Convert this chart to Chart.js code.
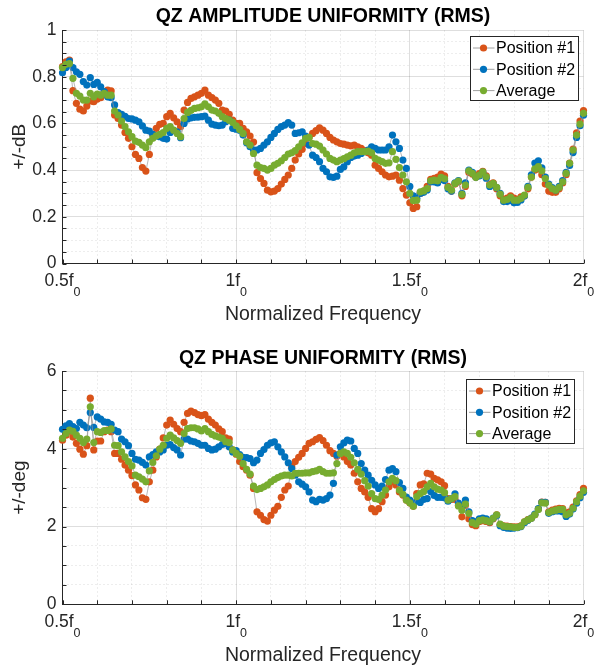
<!DOCTYPE html>
<html>
<head>
<meta charset="utf-8">
<title>QZ uniformity</title>
<script src="https://cdn.jsdelivr.net/npm/chart.js@4.4.0/dist/chart.umd.min.js"></script>
<style>
  html, body { margin: 0; padding: 0; background: #fff; }
  canvas { display: block; }
</style>
</head>
<body>
<canvas id="ampChart" width="595" height="333"></canvas>
<canvas id="phaseChart" width="595" height="333"></canvas>
<script>
// frequency grid, 0.50 .. 2.00 in steps of 0.01 (normalised to f0)
const freq = Array.from({ length: 151 }, (_, i) => (50 + i) / 100);

const seriesNames = ['Position #1', 'Position #2', 'Average'];
const seriesColors = ['#D95319', '#0072BD', '#77AC30'];

const xTickValues = [0.5, 1, 1.5, 2];
const xTickText = ['0.5f', '1f', '1.5f', '2f'];
const xTickSub = '0';

// amplitude uniformity, +/-dB
const ampPos1 = [0.843,0.864,0.871,0.74,0.686,0.661,0.653,0.674,0.696,0.693,
  0.704,0.71,0.736,0.743,0.739,0.636,0.621,0.593,0.561,0.536,
  0.5,0.467,0.45,0.411,0.396,0.467,0.55,0.579,0.596,0.6,
  0.629,0.643,0.624,0.607,0.586,0.657,0.69,0.707,0.714,0.721,
  0.729,0.743,0.721,0.71,0.7,0.686,0.657,0.653,0.639,0.614,
  0.6,0.6,0.579,0.564,0.546,0.52,0.389,0.364,0.343,0.314,
  0.307,0.31,0.321,0.34,0.36,0.379,0.407,0.443,0.469,0.489,
  0.514,0.54,0.557,0.569,0.581,0.571,0.557,0.54,0.529,0.521,
  0.514,0.511,0.507,0.504,0.507,0.5,0.493,0.483,0.474,0.464,
  0.421,0.407,0.393,0.379,0.371,0.374,0.379,0.357,0.321,0.293,
  0.26,0.236,0.243,0.3,0.31,0.33,0.36,0.365,0.37,0.383,
  0.375,0.33,0.31,0.34,0.35,0.29,0.33,0.39,0.383,0.37,
  0.385,0.395,0.375,0.34,0.345,0.32,0.29,0.275,0.28,0.29,
  0.28,0.275,0.285,0.29,0.32,0.37,0.4,0.405,0.38,0.34,
  0.31,0.305,0.305,0.32,0.345,0.38,0.43,0.49,0.56,0.61,0.655];

const ampPos2 = [0.817,0.839,0.867,0.839,0.821,0.81,0.779,0.764,0.796,0.767,
  0.776,0.757,0.736,0.714,0.71,0.679,0.646,0.639,0.63,0.621,
  0.619,0.614,0.607,0.589,0.571,0.567,0.553,0.546,0.543,0.536,
  0.533,0.561,0.57,0.564,0.539,0.6,0.619,0.624,0.626,0.627,
  0.629,0.631,0.614,0.597,0.593,0.59,0.593,0.607,0.614,0.579,
  0.575,0.571,0.55,0.517,0.5,0.486,0.486,0.493,0.507,0.521,
  0.54,0.557,0.574,0.586,0.593,0.603,0.593,0.557,0.56,0.564,
  0.546,0.507,0.464,0.454,0.436,0.407,0.393,0.371,0.369,0.374,
  0.403,0.414,0.436,0.454,0.46,0.464,0.471,0.479,0.486,0.5,
  0.493,0.486,0.486,0.486,0.5,0.55,0.521,0.493,0.443,0.407,
  0.33,0.29,0.279,0.3,0.305,0.315,0.35,0.35,0.345,0.36,
  0.355,0.32,0.31,0.345,0.355,0.3,0.345,0.4,0.39,0.37,
  0.375,0.39,0.365,0.33,0.34,0.325,0.3,0.265,0.265,0.27,
  0.26,0.262,0.272,0.29,0.33,0.38,0.43,0.44,0.41,0.37,
  0.34,0.325,0.315,0.33,0.355,0.39,0.42,0.475,0.54,0.59,0.635];

const ampAvg = [0.839,0.853,0.856,0.793,0.729,0.717,0.7,0.7,0.729,0.714,
  0.726,0.721,0.729,0.721,0.721,0.653,0.636,0.61,0.586,0.564,
  0.543,0.524,0.519,0.507,0.496,0.521,0.536,0.547,0.553,0.561,
  0.579,0.586,0.571,0.557,0.543,0.621,0.647,0.656,0.664,0.667,
  0.671,0.684,0.671,0.657,0.653,0.643,0.629,0.621,0.614,0.604,
  0.59,0.574,0.557,0.521,0.507,0.471,0.421,0.411,0.407,0.4,
  0.407,0.421,0.429,0.44,0.454,0.469,0.474,0.483,0.5,0.517,
  0.536,0.54,0.514,0.511,0.503,0.486,0.469,0.45,0.443,0.436,
  0.443,0.449,0.457,0.464,0.474,0.479,0.479,0.479,0.481,0.474,
  0.45,0.443,0.436,0.429,0.431,0.479,0.446,0.411,0.379,0.35,
  0.3,0.27,0.271,0.307,0.311,0.321,0.354,0.357,0.354,0.369,
  0.363,0.326,0.314,0.343,0.353,0.296,0.336,0.397,0.386,0.369,
  0.379,0.393,0.371,0.336,0.343,0.326,0.297,0.271,0.274,0.283,
  0.271,0.271,0.279,0.293,0.326,0.37,0.405,0.415,0.397,0.364,
  0.336,0.321,0.314,0.326,0.35,0.386,0.429,0.486,0.55,0.597,0.643];

// phase uniformity, +/-deg
const phasePos1 = [4.22,4.35,4.45,4.3,4.14,3.99,3.86,4.08,5.3,3.97,
  4.2,4.2,4.44,4.48,4.44,3.88,3.88,3.73,3.58,3.45,
  3.31,3.07,2.94,2.74,2.7,3.15,3.45,3.79,3.99,4.28,
  4.61,4.74,4.63,4.52,4.44,4.68,4.91,4.97,4.93,4.88,
  4.85,4.88,4.76,4.68,4.61,4.51,4.44,4.28,4.25,3.97,
  3.86,3.67,3.54,3.45,3.32,2.98,2.38,2.29,2.18,2.14,
  2.29,2.42,2.52,2.75,2.94,3.04,3.54,3.67,3.78,3.88,
  4.01,4.14,4.18,4.24,4.29,4.21,4.09,3.95,3.88,3.81,
  3.88,3.79,3.67,3.58,3.37,3.15,2.98,2.89,2.75,2.46,
  2.38,2.46,2.64,2.81,3.02,3.15,3.07,2.89,2.81,2.68,
  2.61,2.52,2.85,3.07,3.1,3.37,3.35,3.24,3.2,3.15,
  3.05,2.72,2.7,2.7,2.55,2.25,2.55,2.2,2.05,2.02,
  2.13,2.15,2.13,2.1,2.2,2.3,2.05,2.02,2.01,2.0,
  1.99,1.99,2.02,2.12,2.18,2.22,2.3,2.45,2.63,2.62,
  2.38,2.42,2.45,2.47,2.46,2.35,2.38,2.5,2.66,2.82,2.98];

const phasePos2 = [4.5,4.59,4.65,4.57,4.52,4.68,4.61,4.54,4.93,4.55,
  4.82,4.76,4.69,4.68,4.63,4.48,4.44,4.25,4.18,4.08,
  3.88,3.73,3.71,3.65,3.58,3.79,3.85,3.92,3.92,3.97,
  4.09,4.11,4.03,3.97,3.84,4.25,4.25,4.2,4.18,4.14,
  4.09,4.09,4.01,3.97,3.99,4.05,4.11,4.14,4.05,3.92,
  3.95,3.85,3.78,3.77,3.75,3.64,3.71,3.88,3.98,4.09,
  4.15,4.18,4.05,3.92,3.79,3.64,3.49,3.32,3.15,3.09,
  3.02,2.89,2.68,2.64,2.7,2.68,2.72,2.81,3.11,3.84,
  4.05,4.15,4.22,4.2,4.01,3.88,3.62,3.45,3.32,3.19,
  3.07,2.98,3.04,3.21,3.45,3.49,3.41,3.13,2.98,2.76,
  2.68,2.58,2.66,2.62,2.7,2.72,2.9,2.8,2.75,2.75,
  2.74,2.65,2.72,2.84,2.6,2.5,2.68,2.38,2.15,2.12,
  2.2,2.22,2.2,2.12,2.22,2.28,2.02,1.98,1.96,1.95,
  1.96,1.97,2.0,2.1,2.16,2.22,2.32,2.46,2.62,2.62,
  2.34,2.38,2.4,2.4,2.38,2.26,2.32,2.45,2.6,2.74,2.88];

const phaseAvg = [4.27,4.39,4.48,4.45,4.35,4.27,4.16,4.25,5.08,4.16,
  4.44,4.42,4.47,4.47,4.51,4.09,4.08,3.92,3.79,3.67,
  3.56,3.32,3.28,3.22,3.15,3.43,3.65,3.82,3.99,4.09,
  4.27,4.35,4.28,4.21,4.14,4.39,4.52,4.54,4.54,4.51,
  4.46,4.52,4.44,4.37,4.33,4.3,4.27,4.18,4.16,3.97,
  3.88,3.81,3.62,3.47,3.35,3.04,2.95,2.98,3.02,3.07,
  3.15,3.21,3.26,3.3,3.32,3.32,3.3,3.37,3.37,3.37,
  3.38,3.38,3.41,3.43,3.47,3.41,3.37,3.37,3.38,3.62,
  3.88,3.92,3.88,3.78,3.64,3.47,3.35,3.18,3.04,2.85,
  2.72,2.7,2.81,2.94,3.15,3.24,3.18,2.94,2.83,2.68,
  2.61,2.52,2.77,2.85,2.9,3.02,3.11,3.02,2.96,2.94,
  2.87,2.68,2.72,2.77,2.53,2.42,2.58,2.34,2.1,2.06,
  2.15,2.17,2.15,2.12,2.21,2.3,2.06,2.01,2.0,1.99,
  1.98,1.98,2.01,2.12,2.17,2.21,2.3,2.44,2.61,2.6,
  2.36,2.4,2.42,2.44,2.44,2.3,2.34,2.47,2.64,2.78,2.92];

const FONT = '"Liberation Sans", Arial, Helvetica, sans-serif';
const AXIS_COLOR = '#262626';
Chart.defaults.font.family = FONT;
Chart.defaults.color = AXIS_COLOR;

function isMultiple(v, step) {
  const q = v / step;
  return Math.abs(q - Math.round(q)) < 1e-6;
}

// legend box drawn inside the plot, top right (matlab 'northeast')
const insideLegend = {
  id: 'insideLegend',
  afterDraw(chart, args, opts) {
    const ctx = chart.ctx;
    const area = chart.chartArea;
    const w = 108, h = 64;
    const x0 = Math.round(area.right - opts.right - w) + 0.5;
    const y0 = Math.round(area.top + opts.top) + 0.5;
    ctx.save();
    ctx.fillStyle = '#fff';
    ctx.fillRect(x0, y0, w, h);
    ctx.strokeStyle = AXIS_COLOR;
    ctx.lineWidth = 1;
    ctx.strokeRect(x0, y0, w, h);
    ctx.font = '16px ' + FONT;
    ctx.textBaseline = 'middle';
    ctx.textAlign = 'left';
    chart.data.datasets.forEach((ds, i) => {
      const cy = y0 + 11.5 + i * 21.3;
      ctx.strokeStyle = '#a0a0a0';
      ctx.beginPath();
      ctx.moveTo(x0 + 2.5, cy);
      ctx.lineTo(x0 + 24, cy);
      ctx.stroke();
      ctx.fillStyle = ds.pointBackgroundColor;
      ctx.beginPath();
      ctx.arc(x0 + 13, cy, 3.6, 0, Math.PI * 2);
      ctx.fill();
      ctx.fillStyle = '#000';
      ctx.fillText(ds.label, x0 + 25.5, cy + 1);
    });
    ctx.restore();
  }
};

// inward tick marks and the f0 tick labels with subscript
const matlabAxes = {
  id: 'matlabAxes',
  afterDraw(chart) {
    const ctx = chart.ctx;
    const { left, bottom } = chart.chartArea;
    const xs = chart.scales.x, ys = chart.scales.y;
    ctx.save();
    ctx.strokeStyle = AXIS_COLOR;
    ctx.lineWidth = 1;
    ctx.beginPath();
    xs.ticks.forEach(t => {
      const px = Math.round(xs.getPixelForValue(t.value)) + 0.5;
      ctx.moveTo(px, bottom);
      ctx.lineTo(px, bottom - 4);
    });
    ys.ticks.forEach(t => {
      const py = Math.round(ys.getPixelForValue(t.value)) + 0.5;
      ctx.moveTo(left, py);
      ctx.lineTo(left + 4, py);
    });
    ctx.stroke();

    ctx.fillStyle = AXIS_COLOR;
    ctx.textAlign = 'left';
    ctx.textBaseline = 'alphabetic';
    xTickValues.forEach((v, i) => {
      const px = xs.getPixelForValue(v);
      ctx.font = '17.5px ' + FONT;
      const w1 = ctx.measureText(xTickText[i]).width;
      ctx.font = '12.5px ' + FONT;
      const w2 = ctx.measureText(xTickSub).width;
      const x0 = px - (w1 + w2) / 2;
      ctx.font = '17.5px ' + FONT;
      ctx.fillText(xTickText[i], x0, bottom + 22.5);
      ctx.font = '12.5px ' + FONT;
      ctx.fillText(xTickSub, x0 + w1, bottom + 32.2);
    });
    ctx.restore();
  }
};

function makeChart(id, cfg) {
  const datasets = cfg.series.map((data, i) => ({
    label: seriesNames[i],
    data: data,
    borderColor: 'rgba(150,150,150,0.85)',
    borderWidth: 0.8,
    pointRadius: 3.6,
    pointBorderWidth: 0,
    pointBackgroundColor: seriesColors[i],
    pointBorderColor: seriesColors[i],
    tension: 0,
    order: 3 - i,
    clip: false
  }));

  const gridColor = step => c => (c.tick && isMultiple(c.tick.value, step)) ? 'rgba(0,0,0,0.13)' : 'rgba(0,0,0,0.07)';
  const gridDash = step => c => (c.tick && !isMultiple(c.tick.value, step)) ? [2, 2] : [];

  return new Chart(document.getElementById(id), {
    type: 'line',
    data: { labels: freq, datasets: datasets },
    plugins: [insideLegend, matlabAxes],
    options: {
      responsive: false,
      animation: false,
      devicePixelRatio: 1,
      layout: { padding: { left: 0, right: 11.5, top: 0, bottom: 0 } },
      plugins: {
        legend: { display: false },
        tooltip: { enabled: false },
        title: {
          display: true,
          text: cfg.title,
          fullSize: false,
          color: '#000',
          font: { size: 19.5, weight: 'bold', lineHeight: 1 },
          padding: { top: cfg.titlePad[0], bottom: cfg.titlePad[1] }
        },
        insideLegend: cfg.legend
      },
      scales: {
        x: {
          type: 'linear',
          min: 0.5,
          max: 2,
          ticks: { stepSize: 0.1, display: false, autoSkip: false },
          grid: { color: gridColor(0.5), drawTicks: false },
          border: { color: AXIS_COLOR, width: 1, dash: gridDash(0.5) },
          title: {
            display: true,
            text: 'Normalized Frequency',
            color: AXIS_COLOR,
            font: { size: 19.5, lineHeight: 1 },
            padding: { top: 0, bottom: cfg.xTitlePad }
          },
          afterFit: s => { s.height = cfg.xAxisHeight; }
        },
        y: {
          min: 0,
          max: cfg.yMax,
          ticks: {
            stepSize: cfg.yMinor,
            autoSkip: false,
            padding: 6,
            color: AXIS_COLOR,
            font: { size: 17.5 },
            callback: v => isMultiple(v, cfg.yMajor) ? String(+v.toFixed(2)) : ''
          },
          grid: { color: gridColor(cfg.yMajor), drawTicks: false },
          border: { color: AXIS_COLOR, width: 1, dash: gridDash(cfg.yMajor) },
          title: {
            display: true,
            text: cfg.yLabel,
            color: AXIS_COLOR,
            font: { size: 19, lineHeight: 1 },
            padding: { top: 10.5, bottom: 0 }
          },
          afterFit: s => { s.width = 62.5; }
        }
      }
    }
  });
}

makeChart('ampChart', {
  title: 'QZ AMPLITUDE UNIFORMITY (RMS)',
  yLabel: '+/-dB',
  yMax: 1, yMinor: 0.05, yMajor: 0.2,
  series: [ampPos1, ampPos2, ampAvg],
  titlePad: [7.1, 3.4],
  xAxisHeight: 69.5,
  xTitlePad: 8.4,
  legend: { right: 5.8, top: 5.7 }
});

makeChart('phaseChart', {
  title: 'QZ PHASE UNIFORMITY (RMS)',
  yLabel: '+/-deg',
  yMax: 6, yMinor: 0.5, yMajor: 2,
  series: [phasePos1, phasePos2, phaseAvg],
  titlePad: [15.7, 2.8],
  xAxisHeight: 61.7,
  xTitlePad: 0.65,
  legend: { right: 9.5, top: 8 }
});
</script>
</body>
</html>
